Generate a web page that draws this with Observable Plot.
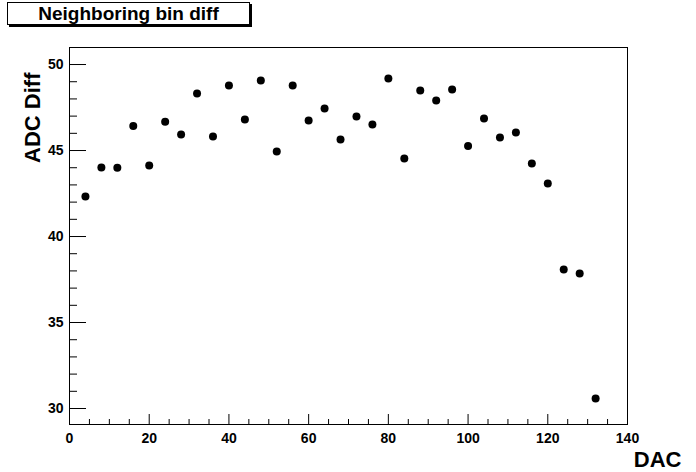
<!DOCTYPE html>
<html>
<head>
<meta charset="utf-8">
<script src="https://cdn.jsdelivr.net/npm/d3@7"></script>
<script src="https://cdn.jsdelivr.net/npm/@observablehq/plot@0.6"></script>
<style>
  html, body { margin: 0; padding: 0; background: #fff; }
  #wrap { position: relative; width: 696px; height: 472px; overflow: hidden; }
  #title {
    position: absolute; left: 7px; top: 2px; width: 241px; height: 21px;
    border: 1px solid #000; box-shadow: 2px 2px 0 #000; background: #fff;
    font-family: "Liberation Sans", Arial, sans-serif; font-weight: bold;
    font-size: 19px; line-height: 21px; text-align: center; color: #000;
  }
  svg { font-family: "Liberation Sans", Arial, sans-serif; }
</style>
</head>
<body>
<div id="wrap">
  <div id="title">Neighboring bin diff</div>
</div>
<script>
const dac = [4, 8, 12, 16, 20, 24, 28, 32, 36, 40, 44, 48, 52, 56, 60, 64, 68, 72, 76, 80, 84, 88, 92, 96, 100, 104, 108, 112, 116, 120, 124, 128, 132];
const adcDiff = [42.33, 44.01, 44.0, 46.43, 44.13, 46.67, 45.93, 48.31, 45.81, 48.78, 46.80, 49.07, 44.94, 48.78, 46.74, 47.44, 45.64, 46.98, 46.51, 49.19, 44.53, 48.49, 47.91, 48.55, 45.27, 46.86, 45.76, 46.05, 44.24, 43.08, 38.08, 37.85, 30.58];
const xMajor = [0, 20, 40, 60, 80, 100, 120, 140];
const xMinor = d3.range(0, 141, 5).filter(v => v % 20 !== 0);
const yMajor = [30, 35, 40, 45, 50];
const yMinor = d3.range(30, 51, 1).filter(v => v % 5 !== 0);
const xTitle = "DAC";
const yTitle = "ADC Diff";

const data = dac.map((d, i) => ({dac: d, diff: adcDiff[i]}));

const labelFont = {fontSize: 14, fontWeight: "bold"};

const chart = Plot.plot({
  width: 696,
  height: 472,
  marginLeft: 69,
  marginRight: 69,
  marginTop: 47,
  marginBottom: 48,
  style: {background: "white", color: "black", overflow: "visible"},
  x: {domain: [0, 140]},
  y: {domain: [29.07, 50.99]},
  marks: [
    Plot.frame({stroke: "black", strokeWidth: 1}),
    Plot.axisX({ticks: xMajor, tickSize: -10, tickFormat: () => "", label: null}),
    Plot.axisX({ticks: xMinor, tickSize: -5, tickFormat: () => "", label: null}),
    Plot.axisX({ticks: xMajor, tickSize: 0, tickPadding: 9, label: null, tickFormat: d3.format("d"), ...labelFont}),
    Plot.axisY({ticks: yMajor, tickSize: -17, tickFormat: () => "", label: null}),
    Plot.axisY({ticks: yMinor, tickSize: -8, tickFormat: () => "", label: null}),
    Plot.axisY({ticks: yMajor, tickSize: 0, tickPadding: 6, label: null, tickFormat: d3.format("d"), ...labelFont}),
    Plot.dot(data, {x: "dac", y: "diff", r: 4, fill: "black", stroke: "none"}),
    Plot.text([xTitle], {frameAnchor: "bottom-right", textAnchor: "end", dx: 54, dy: 42, fontSize: 22, fontWeight: "bold"}),
    Plot.text([yTitle], {frameAnchor: "top-left", textAnchor: "end", rotate: -90, dx: -45, dy: 25, fontSize: 22, fontWeight: "bold"})
  ]
});
document.getElementById("wrap").prepend(chart);
</script>
</body>
</html>
